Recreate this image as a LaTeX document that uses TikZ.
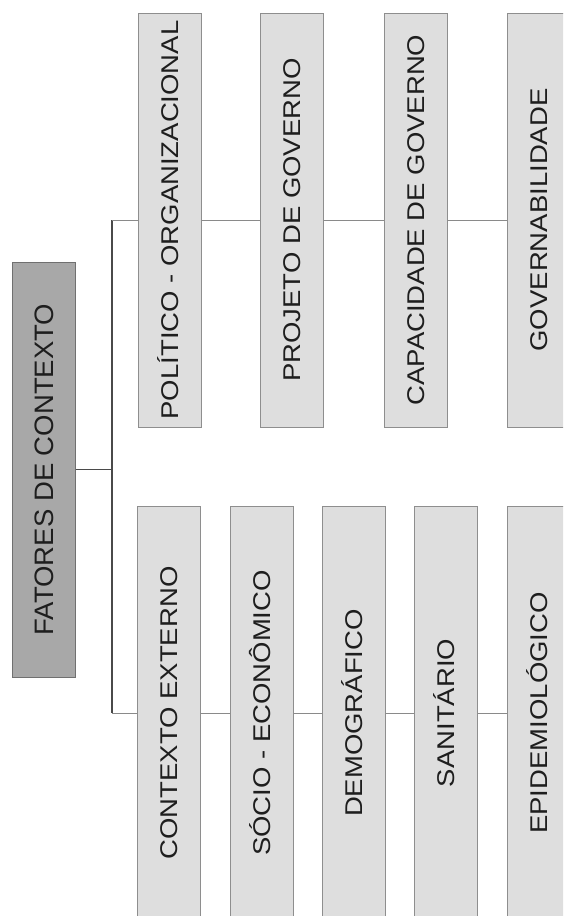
\documentclass[tikz,border=0pt]{standalone}
\usepackage{fontspec}
\setmainfont{Liberation Sans}
\usepackage{graphicx}

\definecolor{boxfill}{HTML}{DEDEDE}
\definecolor{boxline}{HTML}{8E8E8E}
\definecolor{rootfill}{HTML}{A8A8A8}
\definecolor{rootline}{HTML}{707070}
\definecolor{trunkline}{HTML}{4A4A4A}
\definecolor{linkline}{HTML}{8A8A8A}
\definecolor{ink}{HTML}{1E1E1E}

% vertical text: the boxes are rotated, so north is the left edge and south the right edge
\newcommand{\squashtext}[1]{\scalebox{1}[0.88]{#1}}

\tikzset{
  x=1pt, y=-1pt,
  factor/.style={draw=boxline, fill=boxfill, line width=1pt, rotate=90,
    minimum width=414pt, minimum height=63pt, inner sep=0pt,
    text=ink, font=\fontsize{27.5}{30}\selectfont,
    text height=17.3pt, text depth=0pt},
  rootbox/.style={factor, draw=rootline, fill=rootfill, minimum width=415pt,
    text height=19.1pt},
  trunk/.style={draw=trunkline, line width=1.4pt},
  link/.style={draw=linkline, line width=1pt},
}

\begin{document}
\begin{tikzpicture}
\clip (0,0) rectangle (563,916);
\fill[white] (0,0) rectangle (563,916);

% root
\node[rootbox] (root) at (43.5,469.5) {\scalebox{1}[0.97]{FATORES DE CONTEXTO}};

% upper branch
\node[factor] (pol) at (169.5,220) {\squashtext{POLÍTICO - ORGANIZACIONAL}};
\node[factor] (proj) at (292,220) {\squashtext{PROJETO DE GOVERNO}};
\node[factor] (cap) at (415.5,220) {\squashtext{CAPACIDADE DE GOVERNO}};
\node[factor] (gov) at (538.5,220) {\squashtext{GOVERNABILIDADE}};

% lower branch
\node[factor] (ext) at (169,713) {\squashtext{CONTEXTO EXTERNO}};
\node[factor] (soc) at (261.5,713) {\squashtext{SÓCIO - ECONÔMICO}};
\node[factor] (dem) at (354,713) {\squashtext{DEMOGRÁFICO}};
\node[factor] (san) at (446,713) {\squashtext{SANITÁRIO}};
\node[factor] (epi) at (538.5,713) {\squashtext{EPIDEMIOLÓGICO}};

% trunk junctions
\coordinate (jtop) at (112,220);
\coordinate (jmid) at (112,469.5);
\coordinate (jbot) at (112,713);

\draw[trunk] (root.south) -- (jmid);
\draw[trunk] (jtop) -- (jbot);

\draw[link] (jtop) -- (pol.north);
\draw[link] (pol.south) -- (proj.north);
\draw[link] (proj.south) -- (cap.north);
\draw[link] (cap.south) -- (gov.north);

\draw[link] (jbot) -- (ext.north);
\draw[link] (ext.south) -- (soc.north);
\draw[link] (soc.south) -- (dem.north);
\draw[link] (dem.south) -- (san.north);
\draw[link] (san.south) -- (epi.north);
\end{tikzpicture}
\end{document}
